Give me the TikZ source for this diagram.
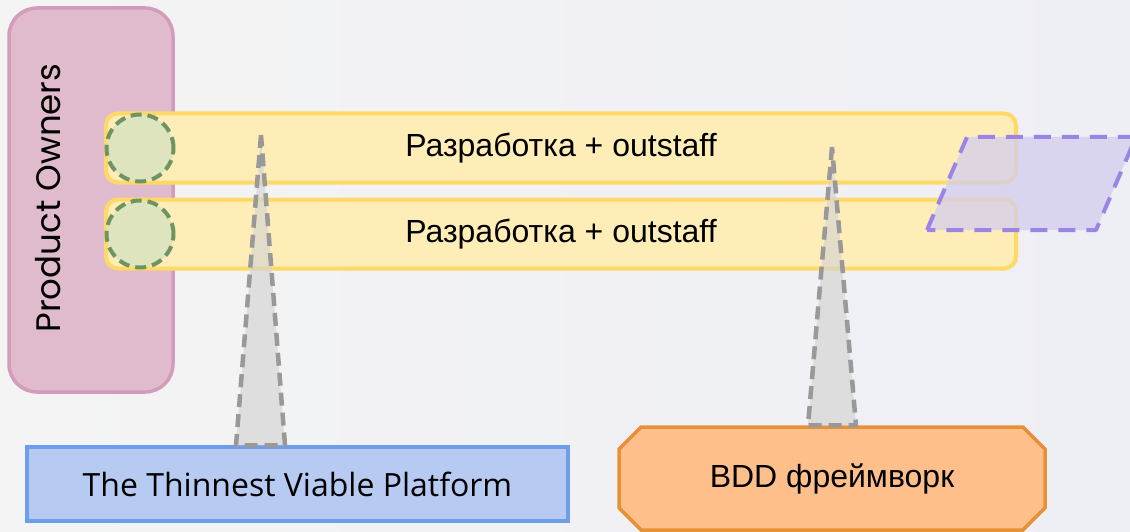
\documentclass[tikz,border=0pt]{standalone}
\usepackage{fontspec}
\setmainfont{Liberation Sans}
\newfontfamily\platfont{Open Sans}
\newfontfamily\ownerfont{Poppins}
\usetikzlibrary{shapes.geometric, shapes.misc, positioning, math}
\definecolor{mybg}{HTML}{F4F4F4}
\definecolor{mybgright}{HTML}{EEEFF5}
\definecolor{mypink}{HTML}{DFBBCD}
\definecolor{mypinkline}{HTML}{D29CBA}
\definecolor{myyellow}{HTML}{FFEDB8}
\definecolor{myyellowline}{HTML}{FFD966}
\definecolor{mygreen}{HTML}{DDE4BE}
\definecolor{mygreenline}{HTML}{6E9461}
\definecolor{mypurple}{HTML}{D3CDEE}
\definecolor{mypurpleline}{HTML}{9A85E6}
\definecolor{mygrey}{HTML}{D3D3D3}
\definecolor{mygreyline}{HTML}{999999}
\definecolor{myblue}{HTML}{B7CBF2}
\definecolor{myblueline}{HTML}{6D9EEB}
\definecolor{myorange}{HTML}{FFBF8A}
\definecolor{myorangeline}{HTML}{E69138}

\tikzset{
  bigtext/.style={font=\fontsize{32}{36}\selectfont},
  owners/.style={draw=mypinkline, fill=mypink, line width=3.5, rounded corners=28,
    minimum width=164, minimum height=384},
  devbar/.style={draw=myyellowline, fill=myyellow, line width=4, rounded corners=12,
    minimum width=910, minimum height=69, bigtext},
  slot/.style={circle, draw=mygreenline, fill=mygreen, line width=4,
    dash pattern=on 11 off 6, minimum size=67},
  beam/.style={draw=mygreyline, fill=mygrey, fill opacity=0.65, draw opacity=1,
    line width=4.5, dash pattern=on 13 off 7, line join=round},
  platform/.style={draw=myblueline, fill=myblue, line width=3.5,
    minimum width=541, minimum height=74, font=\platfont\fontsize{32}{36}\selectfont},
  framework/.style={chamfered rectangle, chamfered rectangle xsep=31,
    draw=myorangeline, fill=myorange, line width=3.5,
    minimum width=426, minimum height=103, bigtext},
  extra/.style={draw=mypurpleline, fill=mypurple, fill opacity=0.75,
    line width=4, dash pattern=on 17 off 11, line join=round}
}

\begin{document}
\begin{tikzpicture}[x=1pt, y=-1pt]
\shade[left color=mybg, right color=mybgright] (0,0) rectangle (1130,532);
\useasboundingbox (0,0) rectangle (1130,532);

% owners and teams
\node[owners] (po) at (91,200) {};
\node[rotate=90, font=\ownerfont\fontsize{34}{38}\selectfont] (potext) at (48,198) {Product Owners};

\node[devbar] (dev1) at (561,148) {Разработка + outstaff};
\node[devbar] (dev2) at (561,234) {Разработка + outstaff};
\node[slot] (slot1) at (140,148) {};
\node[slot] (slot2) at (140,234) {};

% base layers
\node[platform] (plat) at (297.5,484) {The Thinnest Viable Platform};
\node[framework] (bdd) at (832,478.5) {BDD фреймворк};

% beams from the base up to the teams
\coordinate (tipA) at (261,135);
\coordinate (tipB) at (832,147);
\draw[beam] (tipA) -- (plat.north -| 236,0) -- (plat.north -| 285,0) -- cycle;
\draw[beam] (tipB) -- (bdd.north -| 808,0) -- (bdd.north -| 856,0) -- cycle;

% open slot
\draw[extra] (927,230) -- (967,137) -- (1136,137) -- (1096,230) -- cycle;
\end{tikzpicture}
\end{document}
